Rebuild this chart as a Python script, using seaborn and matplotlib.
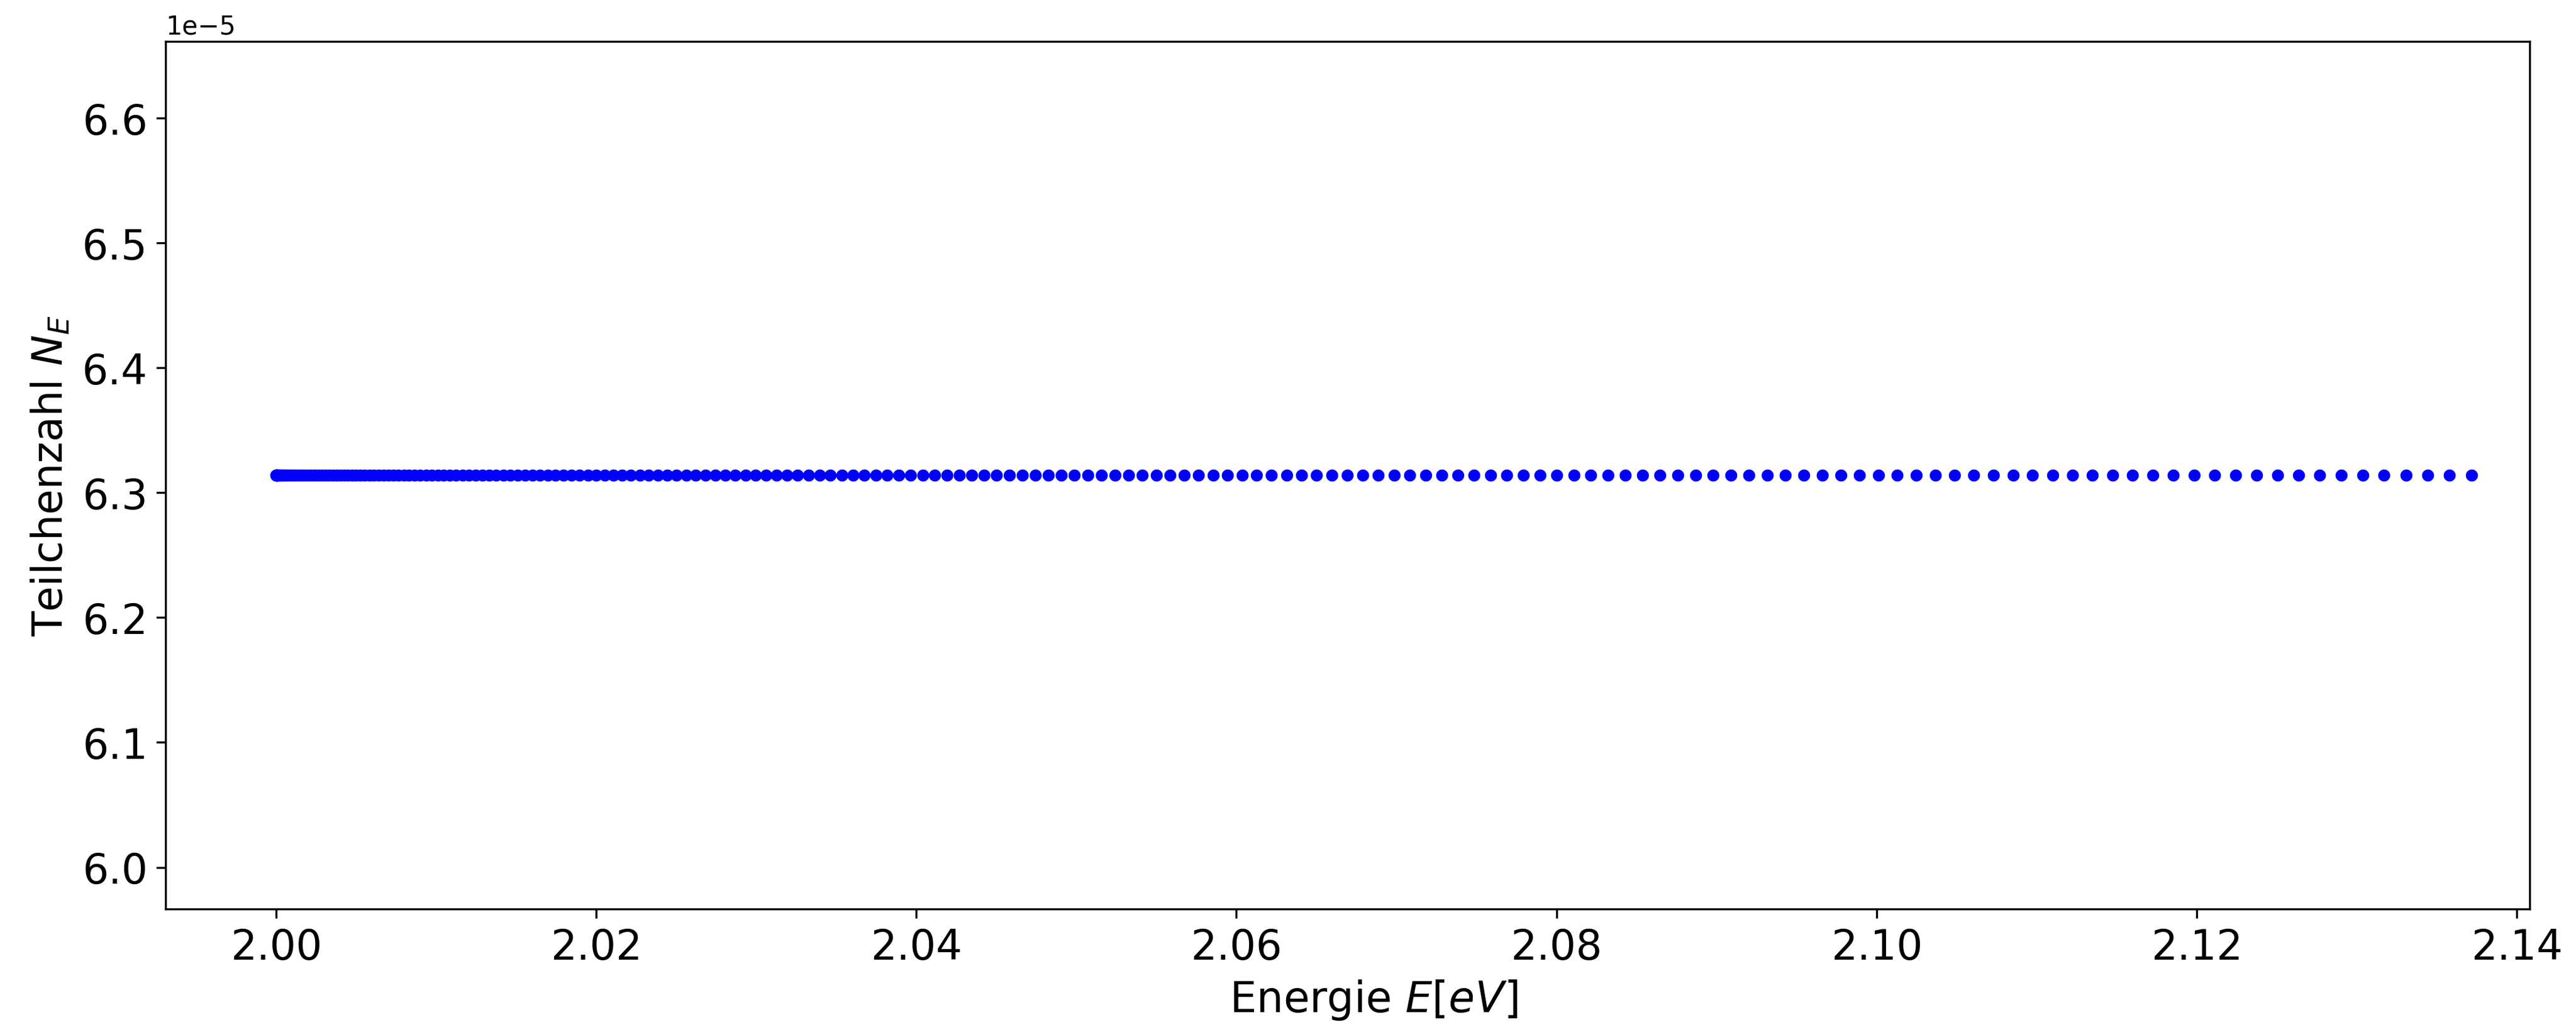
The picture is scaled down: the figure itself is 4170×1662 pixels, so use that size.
import pandas as pd
import matplotlib
matplotlib.use("Agg")
import matplotlib.pyplot as plt
import seaborn as sns

# Energiewerte, dichter am Anfang
energie = [
    2.00000, 2.00000, 2.00001, 2.00003, 2.00006, 2.00009, 2.00012, 2.00017, 2.00022, 2.00028,
    2.00035, 2.00042, 2.00050, 2.00059, 2.00068, 2.00078, 2.00089, 2.00100, 2.00112, 2.00125,
    2.00139, 2.00153, 2.00168, 2.00183, 2.00200, 2.00216, 2.00234, 2.00253, 2.00272, 2.00291,
    2.00312, 2.00333, 2.00355, 2.00377, 2.00400, 2.00424, 2.00449, 2.00474, 2.00500, 2.00527,
    2.00554, 2.00582, 2.00611, 2.00640, 2.00671, 2.00701, 2.00733, 2.00765, 2.00798, 2.00832,
    2.00866, 2.00901, 2.00937, 2.00973, 2.01010, 2.01048, 2.01086, 2.01125, 2.01165, 2.01206,
    2.01247, 2.01289, 2.01332, 2.01375, 2.01419, 2.01463, 2.01509, 2.01555, 2.01602, 2.01649,
    2.01697, 2.01746, 2.01796, 2.01846, 2.01897, 2.01948, 2.02001, 2.02054, 2.02107, 2.02162,
    2.02217, 2.02273, 2.02329, 2.02386, 2.02444, 2.02503, 2.02562, 2.02622, 2.02682, 2.02744,
    2.02806, 2.02868, 2.02932, 2.02996, 2.03061, 2.03126, 2.03192, 2.03259, 2.03327, 2.03395,
    2.03464, 2.03534, 2.03604, 2.03675, 2.03747, 2.03819, 2.03892, 2.03966, 2.04040, 2.04115,
    2.04191, 2.04268, 2.04345, 2.04423, 2.04502, 2.04581, 2.04661, 2.04742, 2.04823, 2.04905,
    2.04988, 2.05071, 2.05156, 2.05241, 2.05326, 2.05412, 2.05499, 2.05587, 2.05675, 2.05764,
    2.05854, 2.05944, 2.06035, 2.06127, 2.06220, 2.06313, 2.06407, 2.06501, 2.06597, 2.06693,
    2.06789, 2.06887, 2.06985, 2.07083, 2.07183, 2.07283, 2.07384, 2.07485, 2.07587, 2.07690,
    2.07794, 2.07898, 2.08003, 2.08109, 2.08215, 2.08322, 2.08430, 2.08538, 2.08647, 2.08757,
    2.08868, 2.08979, 2.09091, 2.09203, 2.09317, 2.09430, 2.09545, 2.09660, 2.09777, 2.09893,
    2.10011, 2.10129, 2.10248, 2.10367, 2.10487, 2.10608, 2.10730, 2.10852, 2.10975, 2.11099,
    2.11223, 2.11348, 2.11474, 2.11600, 2.11727, 2.11855, 2.11984, 2.12113, 2.12243, 2.12373,
    2.12505, 2.12637, 2.12769, 2.12903, 2.13037, 2.13171, 2.13307, 2.13443, 2.13580, 2.13717,
]
# Teilchenzahl ist konstant
teilchenzahl_wert = 6.314e-5
teilchenzahl = [teilchenzahl_wert] * len(energie)

df = pd.DataFrame({"E": energie, "N": teilchenzahl})

fig, ax = plt.subplots(figsize=(13.9, 5.543), dpi=300)
fig.subplots_adjust(left=0.0643, right=0.982, top=0.959, bottom=0.115)

sns.scatterplot(data=df, x="E", y="N", color="blue", s=22, linewidth=0, ax=ax)

ax.set_xlim(1.9931, 2.1408)
ax.set_xlabel("Energie $E[eV]$", fontsize=16.5)
ax.set_ylabel("Teilchenzahl $N_E$", fontsize=16)
ax.xaxis.label.set_x(0.511)  # Beschriftung leicht nach rechts wie im Original
ax.tick_params(labelsize=16)

plt.savefig("out.png", dpi=300)
